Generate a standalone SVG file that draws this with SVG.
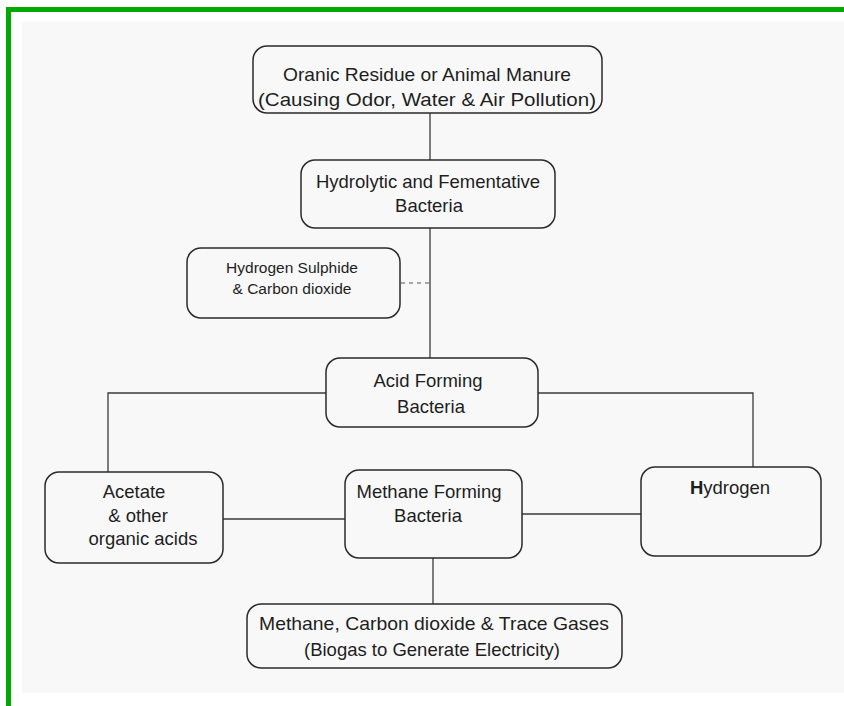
<svg xmlns="http://www.w3.org/2000/svg" width="844" height="706" viewBox="0 0 844 706">
<style>
.box{fill:none;stroke:#2a2a2a;stroke-width:1.5}
.ln{fill:none;stroke:#3a3a3a;stroke-width:1.3}
.dash{fill:none;stroke:#555;stroke-width:1.1;stroke-dasharray:4 4}
text{font-family:"Liberation Sans",Arial,sans-serif;fill:#1e1e1e;text-anchor:middle;font-size:18.5px}
.sm{font-size:15.5px}
</style>
<rect x="0" y="0" width="844" height="706" fill="#ffffff"/>
<rect x="22" y="22" width="822" height="671" fill="#f8f8f8"/>
<rect x="6" y="7" width="838" height="5" fill="#00aa00"/>
<rect x="6" y="7" width="5" height="699" fill="#00aa00"/>
<g id="connectors">
<line class="ln" x1="430" y1="113" x2="430" y2="160"/>
<line class="ln" x1="430" y1="228" x2="430" y2="358"/>
<line class="dash" x1="401" y1="283" x2="430" y2="283"/>
<polyline class="ln" points="326,393 108,393 108,472"/>
<polyline class="ln" points="538,393 753,393 753,467"/>
<line class="ln" x1="223" y1="519" x2="345" y2="519"/>
<line class="ln" x1="522" y1="514" x2="641" y2="514"/>
<line class="ln" x1="433" y1="558" x2="433" y2="604"/>
</g>
<g id="n-residue">
<rect class="box" x="253" y="46" width="349" height="67" rx="14"/>
<text x="427" y="81" textLength="288" lengthAdjust="spacingAndGlyphs">Oranic Residue or Animal Manure</text>
<text x="427" y="106" textLength="338" lengthAdjust="spacingAndGlyphs">(Causing Odor, Water &amp; Air Pollution)</text>
</g>
<g id="n-hydrolytic">
<rect class="box" x="301" y="160" width="254" height="68" rx="14"/>
<text x="428" y="188">Hydrolytic and Fementative</text>
<text x="429" y="212">Bacteria</text>
</g>
<g id="n-h2s">
<rect class="box" x="187" y="248" width="213" height="70" rx="14"/>
<text class="sm" x="292" y="273">Hydrogen Sulphide</text>
<text class="sm" x="292" y="294">&amp; Carbon dioxide</text>
</g>
<g id="n-acid">
<rect class="box" x="326" y="358" width="212" height="69" rx="14"/>
<text x="428" y="387">Acid Forming</text>
<text x="431" y="413">Bacteria</text>
</g>
<g id="n-acetate">
<rect class="box" x="45" y="472" width="178" height="91" rx="14"/>
<text x="134" y="498">Acetate</text>
<text x="138" y="522">&amp; other</text>
<text x="143" y="545">organic acids</text>
</g>
<g id="n-methane">
<rect class="box" x="345" y="470" width="177" height="88" rx="14"/>
<text x="429" y="498">Methane Forming</text>
<text x="428" y="522">Bacteria</text>
</g>
<g id="n-hydrogen">
<rect class="box" x="641" y="467" width="180" height="89" rx="14"/>
<text x="730" y="494"><tspan font-weight="bold">H</tspan>ydrogen</text>
</g>
<g id="n-biogas">
<rect class="box" x="247" y="604" width="375" height="64" rx="14"/>
<text x="434" y="630" textLength="350" lengthAdjust="spacingAndGlyphs">Methane, Carbon dioxide &amp; Trace Gases</text>
<text x="432" y="656">(Biogas to Generate Electricity)</text>
</g>
</svg>
